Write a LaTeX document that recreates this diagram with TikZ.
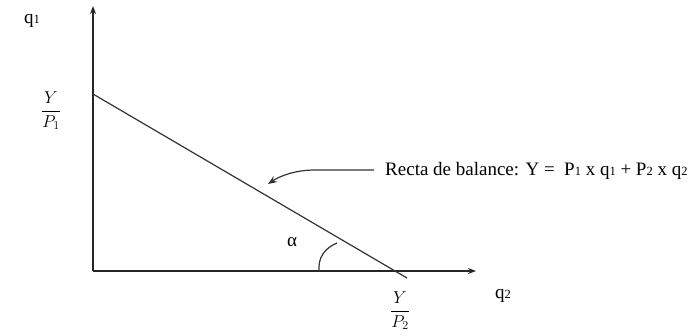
\documentclass[tikz,border=0pt]{standalone}
\usepackage{fontspec}
\setmainfont{Liberation Serif}
\usetikzlibrary{arrows.meta}
\newcommand\smn[1]{{\fontsize{12.5}{12.5}\selectfont #1}}
\begin{document}
\begin{tikzpicture}[x=1pt,y=-1pt,
  axis/.style={line width=1.3pt,draw=black!85,-{Stealth[length=8pt,width=6pt]}},
  budget/.style={line width=1.2pt,draw=black!80},
  callout/.style={line width=1.2pt,draw=black!80,-{Stealth[length=9pt,width=7pt]}},
  lbl/.style={font=\fontsize{19}{19}\selectfont,inner sep=0pt},
  frac/.style={font=\fontsize{17}{17}\selectfont,inner sep=0pt}]
\useasboundingbox (0,0) rectangle (700,335);
\coordinate (O) at (93,271);
\coordinate (ytop) at (93,6);
\coordinate (xend) at (476,271);
\coordinate (A) at (93,94);
\coordinate (B) at (407,278);
\coordinate (arcS) at (319,271);
\coordinate (arcE) at (337,243);
\coordinate (cs) at (374,170);
\coordinate (ce) at (268,184);
\draw[axis] (O) -- (ytop);
\draw[axis] (O) -- (xend);
\draw[budget] (A) -- (B);
\draw[budget] (arcS) .. controls (318,257) and (325,248) .. (arcE);
\draw[callout] (cs) -- (315,170) .. controls (295,170) and (280,176) .. (ce);
\node[lbl] (q1) at (32,21) {q\smn{1}};
\node[lbl] (q2) at (503,296) {q\smn{2}};
\node[frac] (f1) at (51,111) {$\displaystyle\frac{Y}{P_1}$};
\node[frac] (f2) at (400,311) {$\displaystyle\frac{Y}{P_2}$};
\node[lbl] (alpha) at (292,242) {α};
\node[lbl,anchor=west] (eq) at (385,171) {Recta de balance: Y =\ \ P\smn{1} x q\smn{1} + P\smn{2} x q\smn{2}};
\end{tikzpicture}
\end{document}
